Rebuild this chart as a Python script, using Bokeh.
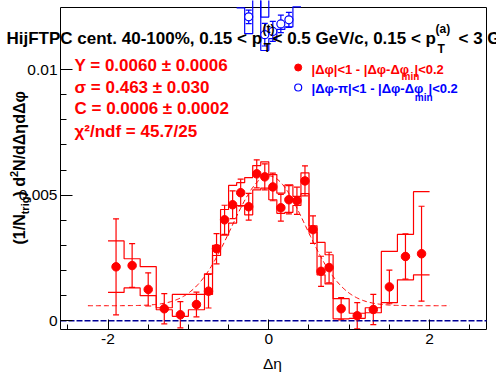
import numpy as np
from bokeh.plotting import figure
from bokeh.models import (ColumnDataSource, FixedTicker, Label, Whisker, TeeHead,
                          Range1d, PrintfTickFormatter)
from bokeh.embed import file_html
from bokeh.resources import INLINE

# ---------------- data ----------------
# near-side (red), values in units of 1e-3
deta = [-1.9, -1.7, -1.5, -1.3, -1.1, -0.9, -0.75, -0.65, -0.55, -0.45, -0.35, -0.25, -0.15, -0.05,
        0.05, 0.15, 0.25, 0.35, 0.45, 0.55, 0.65, 0.75, 0.9, 1.1, 1.3, 1.5, 1.7, 1.9]
yield_red = [2.15, 2.20, 1.25, 0.48, 0.24, 0.65, 1.18, 2.87, 4.02, 4.62, 5.10, 4.54, 5.85, 5.73,
             5.33, 4.50, 4.82, 4.78, 5.57, 3.63, 1.97, 2.12, 0.48, 0.20, 0.45, 1.35, 2.56, 2.67]
err_red = [1.91, 0.87, 0.66, 0.60, 0.52, 0.49, 0.67, 0.60, 0.58, 0.55, 0.54, 0.53, 0.56, 0.52,
           0.55, 0.53, 0.56, 0.54, 0.60, 0.55, 0.60, 0.61, 0.44, 0.52, 0.60, 0.67, 0.90, 1.89]
bin_edges = [-2.0, -1.8, -1.6, -1.4, -1.2, -1.0, -0.8, -0.7, -0.6, -0.5, -0.4, -0.3, -0.2, -0.1, 0.0,
             0.1, 0.2, 0.3, 0.4, 0.5, 0.6, 0.7, 0.8, 1.0, 1.2, 1.4, 1.6, 1.8, 2.0]
sys_hi_red = [3.18, 2.47, 2.16, 0.52, 1.05, 1.05, 1.87, 3.00, 4.43, 5.39, 5.50, 5.70, 6.18, 6.33,
              5.82, 5.08, 5.41, 4.95, 5.89, 3.78, 3.12, 2.63, 0.88, 0.30, 0.52, 2.76, 3.44, 5.14]
sys_lo_red = [1.13, 1.31, 1.00, 0.44, 0.18, 0.44, 1.05, 2.60, 3.41, 3.89, 4.59, 4.22, 5.21, 5.28,
              4.82, 4.28, 4.32, 4.59, 5.06, 3.53, 1.83, 1.47, 0.08, 0.10, 0.32, 0.72, 1.63, 1.83]

# away-side (blue), only the points that reach into the frame, units of 1e-3
deta_blue = [-0.25, -0.05, 0.05, 0.15, 0.25]
yield_blue = [12.10, 11.39, 11.52, 11.82, 11.98]
err_blue = [0.27, 0.45, 0.40, 0.35, 0.30]
blue_edges = [-0.4, -0.3, -0.2, -0.1, 0.0, 0.1, 0.2, 0.3, 0.4]
sys_lo_blue = [12.46, 11.43, 12.90, 10.76, 11.23, 11.60, 11.70, 12.50]
sys_hi_blue = [13.5, 13.0, 13.5, 12.09, 13.0, 13.0, 13.1, 13.5]

# fit parameters (Gaussian + constant), as printed on the chart
fit_Y, fit_sigma, fit_C = 0.0060, 0.463, 0.0006
fit_range = (-2.25, 2.25)

x_major = [-2, 0, 2]
x_minor = [-2.5, -1.5, -1.0, -0.5, 0.5, 1.0, 1.5, 2.5]
y_major = [0, 0.005, 0.01]
y_minor = [0.001, 0.002, 0.003, 0.004, 0.006, 0.007, 0.008, 0.009]

# ---------------- geometry ----------------
W, H = 496, 374
X0, X1 = -2.591, 2.708          # axis frame range in x
Y0, Y1 = -0.000346, 0.012472    # axis frame range in y
FL, FR, FT, FB = 60, 486, 7, 329  # axis frame edges in page pixels


def dx(px):
    return X0 + (px - FL) / (FR - FL) * (X1 - X0)


def dy(py):
    return Y0 + (FB - py) / (FB - FT) * (Y1 - Y0)


FONT = "Liberation Sans"
RED = "#ff0000"
BLUE = "#0000ff"

p = figure(width=W, height=H, x_range=Range1d(dx(0), dx(W)), y_range=Range1d(dy(H), dy(0)),
           output_backend="svg", toolbar_location=None,
           min_border_left=0, min_border_right=0, min_border_top=0, min_border_bottom=0)
p.grid.visible = False
p.background_fill_color = "white"
p.border_fill_color = "white"
p.outline_line_color = None

# axes drawn at the edges of the ROOT-style frame
p.xaxis.fixed_location = Y0
p.yaxis.fixed_location = X0
p.xaxis.ticker = FixedTicker(ticks=x_major, minor_ticks=x_minor)
p.yaxis.ticker = FixedTicker(ticks=y_major, minor_ticks=y_minor)
p.axis.formatter = PrintfTickFormatter(format="%g")
p.axis.major_label_text_font = FONT
p.axis.major_label_text_font_size = "15.5px"
p.axis.major_label_text_color = "black"
p.axis.axis_line_color = None
p.axis.major_tick_line_color = "black"
p.axis.minor_tick_line_color = "black"
p.axis.major_tick_out = 0
p.axis.minor_tick_out = 0
p.xaxis.major_tick_in = 10
p.xaxis.minor_tick_in = 5
p.yaxis.major_tick_in = 12
p.yaxis.minor_tick_in = 6
p.xaxis.major_label_standoff = 4
p.yaxis.major_label_standoff = 3

# frame box
p.quad(left=[X0], right=[X1], bottom=[Y0], top=[Y1], fill_color=None, line_color="black",
       line_width=1)


def steps(edges, vals):
    xs, ys = [], []
    for i, v in enumerate(vals):
        xs += [edges[i], edges[i + 1]]
        ys += [v * 1e-3, v * 1e-3]
    return xs, ys


# zero line
p.line([X0, X1], [0, 0], line_color="#000096", line_width=1.5, line_dash="6 2")

# systematic bands (red)
for vals in (sys_hi_red, sys_lo_red):
    xs, ys = steps(bin_edges, vals)
    p.line(xs, ys, line_color=RED, line_width=1.2)

# blue systematic bands
for vals in (sys_hi_blue, sys_lo_blue):
    xs, ys = steps(blue_edges, vals)
    p.line(xs, ys, line_color=BLUE, line_width=1.2)

# fit
fx = np.linspace(fit_range[0], fit_range[1], 300)
fy = fit_C + fit_Y / (np.sqrt(2 * np.pi) * fit_sigma) * np.exp(-fx ** 2 / (2 * fit_sigma ** 2))
p.line(fx, fy, line_color=RED, line_width=1, line_dash="5 3")

# red points
yr = np.array(yield_red) * 1e-3
er = np.array(err_red) * 1e-3
src_r = ColumnDataSource(dict(x=deta, y=yr, lo=yr - er, hi=yr + er))
p.add_layout(Whisker(source=src_r, base="x", lower="lo", upper="hi", line_color=RED, line_width=1.2,
                     upper_head=TeeHead(size=6, line_color=RED, line_width=1.2),
                     lower_head=TeeHead(size=6, line_color=RED, line_width=1.2)))
p.scatter("x", "y", source=src_r, marker="circle", size=8.5, fill_color=RED, line_color=RED)

# blue points
yb = np.array(yield_blue) * 1e-3
eb = np.array(err_blue) * 1e-3
src_b = ColumnDataSource(dict(x=deta_blue, y=yb, lo=yb - eb, hi=yb + eb))
p.add_layout(Whisker(source=src_b, base="x", lower="lo", upper="hi", line_color=BLUE, line_width=1.2,
                     upper_head=TeeHead(size=6, line_color=BLUE, line_width=1.2),
                     lower_head=TeeHead(size=6, line_color=BLUE, line_width=1.2)))
p.scatter("x", "y", source=src_b, marker="circle", size=8, fill_color="white", line_color=BLUE,
          line_width=1.2)


def txt(s, px, py, size, color="black", bold=True, angle=0.0, align="left"):
    p.add_layout(Label(x=dx(px), y=dy(py), text=s, text_font=FONT, text_font_size=f"{size}px",
                       text_font_style="bold" if bold else "normal", text_color=color,
                       angle=angle, text_align=align, text_baseline="alphabetic"))


# title
txt("HijFTPC cent. 40-100%, 0.15 < p", 6, 37.5, 17)
txt("(t)", 262, 28, 12)
txt("T", 263, 47, 12)
txt(" < 0.5 GeV/c, 0.15 < p", 272, 37.5, 17)
txt("(a)", 435, 28, 12)
txt("T", 437, 48, 12)
txt(" < 3 GeV/c", 458, 37.5, 17)

# fit results
txt("Y = 0.0060 \u00b1 0.0006", 74, 65, 17, RED)
txt("\u03c3 = 0.463 \u00b1 0.030", 74, 86.5, 17, RED)
txt("C = 0.0006 \u00b1 0.0002", 74, 108.3, 17, RED)
txt("\u03c7\u00b2/ndf = 45.7/25", 74, 130.5, 17, RED)

# legend
p.scatter([dx(297.7)], [dy(67)], marker="circle", size=7, fill_color=RED, line_color=RED)
p.scatter([dx(297.7)], [dy(87)], marker="circle", size=7, fill_color="white", line_color=BLUE,
          line_width=1.2)
txt("|\u0394\u03c6|<1 - |\u0394\u03c6-\u0394\u03c6", 311, 69.3, 13, RED)
txt("min", 401, 76, 10, RED)
txt("|<0.2", 414, 69.3, 13, RED)
txt("|\u0394\u03c6-\u03c0|<1 - |\u0394\u03c6-\u0394\u03c6", 311, 88, 13, BLUE)
txt("min", 414.3, 97, 10, BLUE)
txt("|<0.2", 428, 88, 13, BLUE)

# axis titles
A = np.pi / 2
txt("(1/N", 19, 244, 16, angle=A)
txt("trig", 24.5, 213.8, 11, angle=A)
txt(") d", 19, 196.1, 16, angle=A)
txt("2", 13, 176.5, 11, angle=A)
txt("N/d\u0394\u03b7d\u0394\u03c6", 19, 170.4, 16, angle=A)
txt("\u0394\u03b7", 272, 363, 15.5, bold=False, align="center")

open("out.html", "w").write(file_html(p, INLINE))
